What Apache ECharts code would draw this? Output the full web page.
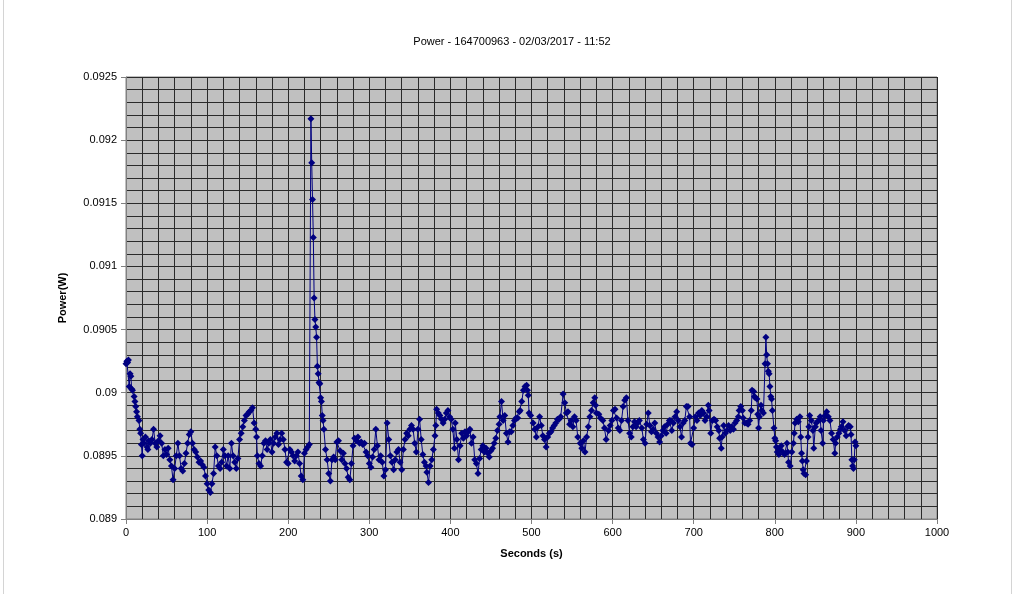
<!DOCTYPE html>
<html lang="en">
<head>
    <meta charset="UTF-8">
    <title>Power - 164700963</title>
    <script src="https://cdn.jsdelivr.net/npm/echarts@6/dist/echarts.min.js"></script>
    <style>
        html, body { margin: 0; padding: 0; background: #fff; }
        #frame { position: absolute; left: 3px; top: 0; width: 1007px; height: 594px;
                 border-left: 1px solid #d4d4d4; border-right: 1px solid #d4d4d4; }
        #main { position: absolute; left: 0; top: 0; width: 1023px; height: 594px; }
    </style>
</head>
<body>
<div id="frame"></div>
<div id="main"></div>
<script>
    // time of each sample (s)
    var seconds = [
        0, 1, 2, 3, 4, 5, 6, 7, 8, 10, 11, 12, 13, 14, 16, 17, 18, 19, 20, 21, 22, 24, 26, 27, 28, 30,
        32, 34, 36, 38, 40, 42, 44, 46, 48, 50, 52, 54, 56, 58, 60, 62, 64, 66, 68, 70, 72, 74, 76, 78,
        80, 82, 84, 86, 88, 90, 92, 94, 96, 98, 100, 102, 104, 106, 108, 110, 112, 114, 116, 118, 120,
        122, 124, 126, 128, 130, 132, 134, 136, 138, 140, 142, 144, 146, 148, 150, 152, 154, 156, 158,
        160, 161, 162, 164, 166, 168, 170, 172, 174, 176, 178, 180, 182, 184, 186, 188, 190, 192, 194,
        196, 198, 200, 202, 204, 206, 208, 210, 212, 214, 216, 218, 220, 222, 224, 226, 228, 229, 230,
        231, 232, 233, 234, 235, 236, 237, 238, 239, 240, 241, 242, 243, 244, 246, 248, 250, 252, 254,
        256, 258, 260, 262, 264, 266, 268, 270, 272, 274, 276, 278, 280, 282, 284, 286, 288, 290, 292,
        294, 296, 298, 300, 302, 304, 306, 308, 310, 312, 314, 316, 318, 320, 322, 324, 326, 328, 330,
        332, 334, 336, 338, 340, 342, 344, 346, 348, 350, 352, 354, 356, 358, 360, 362, 364, 366, 368,
        370, 371, 373, 375, 377, 379, 381, 382, 383, 385, 387, 389, 391, 393, 395, 397, 399, 401, 403,
        405, 406, 408, 410, 412, 414, 416, 418, 420, 422, 424, 426, 428, 430, 432, 434, 436, 438, 440,
        442, 444, 446, 448, 450, 452, 454, 456, 458, 460, 461, 463, 465, 467, 469, 471, 473, 475, 477,
        479, 481, 483, 485, 486, 488, 490, 492, 494, 495, 496, 497, 499, 502, 504, 506, 508, 510, 512,
        514, 516, 518, 520, 522, 524, 526, 528, 530, 532, 534, 536, 539, 541, 543, 545, 547, 549, 551,
        553, 555, 557, 560, 562, 564, 566, 568, 570, 572, 574, 576, 578, 579, 580, 583, 585, 588, 590,
        592, 595, 597, 599, 601, 603, 605, 607, 609, 611, 613, 615, 617, 619, 621, 623, 625, 627, 629,
        631, 633, 636, 638, 640, 642, 644, 646, 648, 650, 652, 654, 656, 658, 660, 662, 664, 666, 668,
        670, 672, 673, 675, 677, 679, 681, 683, 685, 687, 689, 691, 693, 695, 696, 698, 700, 702, 704,
        706, 708, 710, 712, 714, 716, 718, 719, 721, 723, 725, 727, 729, 731, 732, 734, 735, 737, 739,
        741, 743, 745, 747, 749, 751, 753, 755, 756, 758, 760, 761, 763, 765, 767, 769, 771, 772, 774,
        775, 776, 778, 779, 780, 781, 783, 784, 786, 788, 789, 790, 791, 792, 793, 794, 795, 796, 797,
        799, 800, 801, 802, 803, 805, 806, 808, 810, 812, 815, 816, 817, 819, 821, 823, 824, 825, 827,
        829, 831, 832, 833, 834, 835, 836, 838, 839, 841, 842, 843, 845, 847, 848, 850, 851, 854, 856,
        857, 859, 860, 862, 864, 866, 868, 870, 872, 874, 875, 877, 879, 881, 882, 884, 886, 888, 890,
        891, 893, 894, 895, 896, 897, 898, 899, 900
    ];

    // measured power (W)
    var power = [
        0.09023, 0.09025, 0.09024, 0.09026, 0.09005, 0.09015, 0.09013, 0.09003, 0.09002, 0.08997,
        0.08993, 0.08989, 0.08985, 0.08981, 0.08978, 0.08971, 0.08968, 0.08959, 0.08950, 0.08963,
        0.08960, 0.08965, 0.08957, 0.08955, 0.08962, 0.08960, 0.08963, 0.08971, 0.08960, 0.08957,
        0.08962, 0.08966, 0.08960, 0.08950, 0.08955, 0.08951, 0.08956, 0.08947, 0.08942, 0.08931,
        0.08940, 0.08950, 0.08960, 0.08950, 0.08940, 0.08938, 0.08944, 0.08952, 0.08960, 0.08967,
        0.08969, 0.08960, 0.08955, 0.08953, 0.08949, 0.08945, 0.08946, 0.08943, 0.08941, 0.08934,
        0.08928, 0.08923, 0.08921, 0.08928, 0.08936, 0.08957, 0.08950, 0.08942, 0.08940, 0.08945,
        0.08955, 0.08950, 0.08942, 0.08950, 0.08940, 0.08960, 0.08950, 0.08945, 0.08940, 0.08948,
        0.08963, 0.08968, 0.08973, 0.08978, 0.08982, 0.08983, 0.08985, 0.08986, 0.08988, 0.08976,
        0.08971, 0.08965, 0.08950, 0.08944, 0.08942, 0.08950, 0.08960, 0.08962, 0.08955, 0.08960,
        0.08963, 0.08953, 0.08960, 0.08965, 0.08968, 0.08959, 0.08963, 0.08968, 0.08963, 0.08955,
        0.08945, 0.08944, 0.08955, 0.08953, 0.08950, 0.08946, 0.08950, 0.08953, 0.08944, 0.08934,
        0.08931, 0.08952, 0.08955, 0.08957, 0.08959, 0.09217, 0.09182, 0.09153, 0.09123, 0.09075,
        0.09058, 0.09052, 0.09044, 0.09021, 0.09015, 0.09008, 0.09007, 0.08996, 0.08993, 0.08982,
        0.08978, 0.08971, 0.08955, 0.08947, 0.08936, 0.08930, 0.08947, 0.08949, 0.08947, 0.08961,
        0.08962, 0.08954, 0.08947, 0.08952, 0.08944, 0.08940, 0.08933, 0.08931, 0.08944, 0.08958,
        0.08964, 0.08962, 0.08965, 0.08960, 0.08961, 0.08959, 0.08960, 0.08953, 0.08950, 0.08944,
        0.08941, 0.08949, 0.08955, 0.08971, 0.08958, 0.08947, 0.08950, 0.08945, 0.08934, 0.08939,
        0.08976, 0.08963, 0.08950, 0.08945, 0.08939, 0.08947, 0.08953, 0.08955, 0.08945, 0.08939,
        0.08955, 0.08963, 0.08968, 0.08966, 0.08971, 0.08974, 0.08971, 0.08960, 0.08953, 0.08971,
        0.08979, 0.08963, 0.08951, 0.08945, 0.08942, 0.08937, 0.08929, 0.08942, 0.08947, 0.08955,
        0.08966, 0.08974, 0.08987, 0.08984, 0.08982, 0.08979, 0.08976, 0.08979, 0.08984, 0.08986,
        0.08981, 0.08979, 0.08971, 0.08956, 0.08976, 0.08963, 0.08947, 0.08958, 0.08968, 0.08964,
        0.08969, 0.08966, 0.08969, 0.08971, 0.08960, 0.08965, 0.08947, 0.08944, 0.08936, 0.08948,
        0.08955, 0.08958, 0.08953, 0.08956, 0.08952, 0.08949, 0.08954, 0.08956, 0.08960, 0.08964,
        0.08970, 0.08975, 0.08981, 0.08993, 0.08978, 0.08982, 0.08968, 0.08961, 0.08969, 0.08969,
        0.08974, 0.08978, 0.08980, 0.08980, 0.08985, 0.08986, 0.08993, 0.09002, 0.09005, 0.09006,
        0.09002, 0.08998, 0.08984, 0.08982, 0.08976, 0.08971, 0.08965, 0.08973, 0.08981, 0.08974,
        0.08966, 0.08963, 0.08957, 0.08965, 0.08968, 0.08969, 0.08972, 0.08974, 0.08976, 0.08979,
        0.08979, 0.08981, 0.08999, 0.08992, 0.08984, 0.08985, 0.08975, 0.08978, 0.08973, 0.08981,
        0.08978, 0.08965, 0.08960, 0.08956, 0.08962, 0.08953, 0.08965, 0.08973, 0.08981, 0.08986,
        0.08992, 0.08996, 0.08990, 0.08984, 0.08983, 0.08980, 0.08978, 0.08972, 0.08963, 0.08970,
        0.08974, 0.08978, 0.08986, 0.08987, 0.08980, 0.08972, 0.08970, 0.08978, 0.08989, 0.08994,
        0.08996, 0.08978, 0.08968, 0.08965, 0.08973, 0.08977, 0.08973, 0.08976, 0.08978, 0.08972,
        0.08963, 0.08960, 0.08975, 0.08984, 0.08974, 0.08969, 0.08971, 0.08976, 0.08968, 0.08965,
        0.08961, 0.08966, 0.08970, 0.08973, 0.08968, 0.08975, 0.08978, 0.08978, 0.08970, 0.08976,
        0.08981, 0.08985, 0.08978, 0.08973, 0.08965, 0.08976, 0.08978, 0.08989, 0.08989, 0.08981,
        0.08960, 0.08959, 0.08972, 0.08981, 0.08978, 0.08984, 0.08982, 0.08986, 0.08984, 0.08978,
        0.08981, 0.08990, 0.08986, 0.08968, 0.08978, 0.08979, 0.08978, 0.08973, 0.08970, 0.08964,
        0.08956, 0.08965, 0.08974, 0.08968, 0.08970, 0.08974, 0.08970, 0.08973, 0.08971, 0.08976,
        0.08978, 0.08981, 0.08986, 0.08989, 0.08986, 0.08980, 0.08976, 0.08976, 0.08975, 0.08978,
        0.08986, 0.09002, 0.09001, 0.08997, 0.08996, 0.08995, 0.08983, 0.08972, 0.08981, 0.08990,
        0.08986, 0.08984, 0.09023, 0.09044, 0.09030, 0.09023, 0.09017, 0.09015, 0.09005, 0.08997,
        0.08995, 0.08986, 0.08972, 0.08964, 0.08962, 0.08957, 0.08953, 0.08951, 0.08955, 0.08958,
        0.08953, 0.08951, 0.08960, 0.08953, 0.08945, 0.08942, 0.08953, 0.08960, 0.08968, 0.08976,
        0.08979, 0.08977, 0.08981, 0.08965, 0.08952, 0.08946, 0.08939, 0.08936, 0.08935, 0.08946,
        0.08965, 0.08973, 0.08982, 0.08978, 0.08970, 0.08956, 0.08973, 0.08976, 0.08978, 0.08981,
        0.08970, 0.08960, 0.08978, 0.08982, 0.08985, 0.08981, 0.08978, 0.08968, 0.08963, 0.08952,
        0.08960, 0.08965, 0.08968, 0.08971, 0.08973, 0.08977, 0.08970, 0.08966, 0.08973, 0.08974,
        0.08973, 0.08967, 0.08947, 0.08942, 0.08940, 0.08947, 0.08961, 0.08958
    ];

    var chartTitle = 'Power - 164700963 - 02/03/2017 - 11:52';
    var font = '"Liberation Sans", Arial, sans-serif';

    var points = seconds.map(function (s, i) { return [s, power[i]]; });

    var gridLine = { lineStyle: { color: '#2a2a2a', width: 1 } };

    var myChart = echarts.init(document.getElementById('main'), null, { renderer: 'canvas' });
    myChart.setOption({
        animation: false,
        backgroundColor: 'transparent',
        textStyle: { fontFamily: font },
        title: {
            text: chartTitle,
            left: 507,
            top: 31,
            textAlign: 'center',
            textStyle: { fontSize: 11, fontWeight: 'normal', color: '#000', fontFamily: font }
        },
        grid: {
            left: 126,
            right: 86,
            top: 77,
            bottom: 75,
            show: true,
            backgroundColor: '#c0c0c0',
            borderColor: '#808080',
            borderWidth: 1
        },
        xAxis: {
            type: 'value',
            min: 0,
            max: 1000,
            interval: 100,
            name: 'Seconds (s)',
            nameLocation: 'middle',
            nameGap: 29,
            nameTextStyle: { fontSize: 11, fontWeight: 'bold', color: '#000', fontFamily: font },
            axisLine: { show: true, onZero: false, lineStyle: { color: '#808080' } },
            axisTick: { show: true, length: 5, lineStyle: { color: '#808080' } },
            axisLabel: {
                fontSize: 11,
                color: '#000',
                margin: 8,
                fontFamily: font,
                formatter: function (v) { return String(v); }
            },
            splitLine: { show: true, lineStyle: gridLine.lineStyle },
            minorTick: { show: false, splitNumber: 5 },
            minorSplitLine: { show: true, lineStyle: gridLine.lineStyle }
        },
        yAxis: {
            type: 'value',
            min: 0.089,
            max: 0.0925,
            interval: 0.0005,
            name: 'Power(W)',
            nameLocation: 'middle',
            nameGap: 58,
            nameTextStyle: { fontSize: 11, fontWeight: 'bold', color: '#000', fontFamily: font },
            axisLine: { show: true, lineStyle: { color: '#808080' } },
            axisTick: { show: true, length: 5, lineStyle: { color: '#808080' } },
            axisLabel: {
                fontSize: 11,
                color: '#000',
                margin: 9,
                fontFamily: font,
                formatter: function (v) { return String(parseFloat(v.toFixed(5))); }
            },
            splitLine: { show: true, lineStyle: gridLine.lineStyle },
            minorTick: { show: false, splitNumber: 5 },
            minorSplitLine: { show: true, lineStyle: gridLine.lineStyle }
        },
        series: [{
            type: 'line',
            data: points,
            symbol: 'diamond',
            symbolSize: 7,
            showAllSymbol: true,
            lineStyle: { color: '#000080', width: 1 },
            itemStyle: { color: '#000080' }
        }]
    });
</script>
</body>
</html>
